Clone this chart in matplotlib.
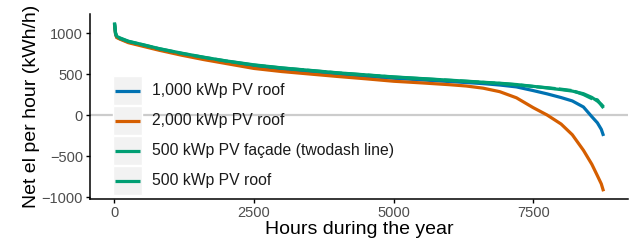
import matplotlib
matplotlib.use("Agg")
import matplotlib.pyplot as plt
from matplotlib.patches import Rectangle
from matplotlib.lines import Line2D

plt.rcParams['font.family'] = ['Liberation Sans', 'DejaVu Sans']

# hour of the year (sorted load-duration style)
hours = [0, 20, 40, 100, 250, 500, 800, 1200, 1600, 2000, 2500, 3000, 3500,
         4000, 4500, 5000, 5500, 6000, 6300, 6600, 6900, 7200, 7500, 7750,
         8000, 8200, 8400, 8550, 8650, 8720, 8760]

roof_1000 = [1120, 990, 950, 930, 890, 850, 800, 742, 690, 645, 592, 555, 525,
             497, 472, 448, 428, 408, 396, 383, 366, 343, 298, 258,
             213, 172, 98, -20, -95, -175, -255]
roof_2000 = [1110, 985, 945, 925, 882, 840, 790, 730, 676, 628, 568, 530, 500,
             470, 442, 412, 392, 370, 354, 328, 285, 210, 90, 0,
             -110, -240, -430, -600, -740, -840, -930]
facade_500 = [1120, 995, 955, 935, 897, 857, 808, 752, 703, 658, 608, 573, 543,
              513, 488, 463, 443, 423, 411, 398, 385, 369, 348, 333,
              315, 298, 250, 200, 185, 120, 85]
roof_500 = [1130, 1000, 960, 940, 900, 860, 810, 755, 705, 660, 612, 575, 545,
            515, 490, 465, 445, 425, 413, 400, 388, 372, 350, 330,
            310, 292, 260, 215, 170, 130, 100]

labels = ['1,000 kWp PV roof', '2,000 kWp PV roof',
          '500 kWp PV façade (twodash line)', '500 kWp PV roof']
series = [roof_1000, roof_2000, facade_500, roof_500]
colors = ['#0072B2', '#D55E00', '#009E73', '#009E73']
styles = ['-', '-', (0, (4, 1, 6, 1)), '-']

W, H = 636, 250
fig = plt.figure(figsize=(W / 100, H / 100), dpi=100)
ax = fig.add_axes([90 / W, 1 - 199 / H, 538 / W, 185 / H])

ax.axhline(0, color='#CCCCCC', lw=1.6, zorder=1)
for vals, c, ls in zip(series, colors, styles):
    ax.plot(hours, vals, color=c, lw=2.3, ls=ls, solid_capstyle='butt', zorder=2)

ax.set_xlim(-438, 9198)
ax.set_ylim(-1024, 1232)
ax.set_xticks([0, 2500, 5000, 7500])
ax.set_yticks([-1000, -500, 0, 500, 1000])
for s in ['top', 'right']:
    ax.spines[s].set_visible(False)
for s in ['left', 'bottom']:
    ax.spines[s].set_linewidth(1.1)
ax.tick_params(length=3, width=1, color='black', labelcolor='#4D4D4D',
               labelsize=10.5, pad=2)
ax.set_xlabel('Hours during the year', fontsize=14, labelpad=1)
ax.set_ylabel('Net el per hour (kWh/h)', fontsize=14, labelpad=1)

# legend drawn inside the panel, ggplot style grey key boxes
def px(x, y):
    return x / W, 1 - y / H

tops = [76, 106, 136, 166]
for top, lab, c, ls in zip(tops, labels, colors, styles):
    x0, y0 = px(113, top + 29)
    fig.patches.append(Rectangle((x0, y0), 29 / W, 29 / H, transform=fig.transFigure,
                                 facecolor='#F2F2F2', edgecolor='white', lw=1, zorder=3))
    ym = top + 14.5
    xa, ya = px(115, ym)
    xb, _ = px(140, ym)
    fig.lines.append(Line2D([xa, xb], [ya, ya], transform=fig.transFigure,
                            color=c, lw=2.3, solid_capstyle='butt', zorder=4))
    xt, yt = px(152, ym)
    fig.text(xt, yt, lab, fontsize=11.3, va='center', ha='left', color='#1A1A1A')

fig.savefig('out.png', dpi=100)
